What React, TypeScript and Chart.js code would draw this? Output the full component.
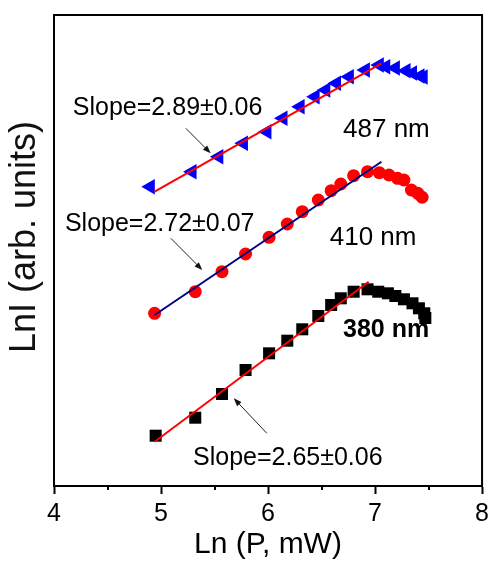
import React, { useEffect, useRef } from "react";
import { Chart, registerables } from "chart.js";

Chart.register(...registerables);

// ---------- data ----------
const xTickValues = [4, 5, 6, 7, 8];
const xMinorTicks = [4.5, 5.5, 6.5, 7.5];

// 487 nm (blue triangles)
const blueX = [4.9, 5.29, 5.54, 5.77, 5.99, 6.14, 6.3, 6.44, 6.54, 6.64, 6.76, 6.91, 7.04, 7.1, 7.19, 7.29, 7.35, 7.42, 7.45];
const blueY = [6.355, 6.673, 6.992, 7.276, 7.522, 7.807, 8.053, 8.265, 8.408, 8.55, 8.69, 8.832, 8.938, 8.902, 8.875, 8.817, 8.769, 8.705, 8.684];

// 410 nm (red circles)
const redX = [4.94, 5.32, 5.57, 5.79, 6.01, 6.18, 6.32, 6.47, 6.59, 6.68, 6.8, 6.93, 7.04, 7.13, 7.21, 7.27, 7.34, 7.4, 7.44];
const redY = [3.667, 4.125, 4.55, 4.926, 5.28, 5.563, 5.824, 6.072, 6.27, 6.412, 6.588, 6.673, 6.652, 6.603, 6.533, 6.497, 6.285, 6.214, 6.13];

// 380 nm (black squares)
const blackX = [4.95, 5.32, 5.57, 5.79, 6.01, 6.18, 6.32, 6.47, 6.59, 6.68, 6.8, 6.93, 7.03, 7.12, 7.19, 7.27, 7.35, 7.41, 7.46, 7.47];
const blackY = [1.068, 1.45, 1.953, 2.463, 2.817, 3.085, 3.327, 3.609, 3.843, 3.985, 4.125, 4.176, 4.125, 4.091, 4.034, 3.964, 3.879, 3.773, 3.667, 3.567];

// linear fits
const fitBlueX = [4.94, 7.06];
const fitBlueY = [6.248, 8.975];
const fitRedX = [4.94, 7.06];
const fitRedY = [3.631, 6.885];
const fitBlackX = [4.94, 6.94];
const fitBlackY = [0.941, 4.338];

// annotation texts
const slopeLabels = ["Slope=2.89\u00b10.06", "Slope=2.72\u00b10.07", "Slope=2.65\u00b10.06"];
const waveLabels = ["487 nm", "410 nm", "380 nm"];

// annotation anchors in data coordinates
const slopeAnchorX = [4.176, 4.102, 5.299];
const slopeAnchorY = [7.877, 5.414, 0.446];
const waveAnchorX = [6.701, 6.577, 6.701];
const waveAnchorY = [7.416, 5.117, 3.17];
const arrowFromX = [5.232, 5.092, 5.989];
const arrowFromY = [7.594, 5.259, 1.119];
const arrowToX = [5.464, 5.386, 5.68];
const arrowToY = [7.064, 4.586, 1.862];

const FONT = "'Liberation Sans', Arial, Helvetica, sans-serif";

const zip = (xs: number[], ys: number[]) => xs.map((x, i) => ({ x, y: ys[i] }));

const overlayPlugin = {
  id: "overlay",
  afterDraw(chart: any) {
    const { ctx, chartArea, scales } = chart;
    const xs = scales.x;
    const ys = scales.y;
    ctx.save();
    // top and right frame
    ctx.strokeStyle = "#000";
    ctx.lineWidth = 2;
    ctx.beginPath();
    ctx.moveTo(chartArea.left, chartArea.top);
    ctx.lineTo(chartArea.right, chartArea.top);
    ctx.lineTo(chartArea.right, chartArea.bottom);
    ctx.stroke();
    // minor ticks
    ctx.beginPath();
    xMinorTicks.forEach((v) => {
      const px = Math.round(xs.getPixelForValue(v));
      ctx.moveTo(px, chartArea.bottom);
      ctx.lineTo(px, chartArea.bottom + 4);
    });
    ctx.stroke();

    // texts
    ctx.fillStyle = "#000";
    ctx.textBaseline = "alphabetic";
    ctx.textAlign = "left";
    ctx.font = `25px ${FONT}`;
    slopeLabels.forEach((t, i) => {
      ctx.fillText(t, xs.getPixelForValue(slopeAnchorX[i]), ys.getPixelForValue(slopeAnchorY[i]));
    });
    waveLabels.forEach((t, i) => {
      ctx.font = i === 2 ? `bold 25px ${FONT}` : `26px ${FONT}`;
      ctx.fillText(t, xs.getPixelForValue(waveAnchorX[i]), ys.getPixelForValue(waveAnchorY[i]));
    });

    // arrows
    ctx.strokeStyle = "#222";
    ctx.fillStyle = "#111";
    ctx.lineWidth = 1;
    arrowFromX.forEach((_, i) => {
      const x1 = xs.getPixelForValue(arrowFromX[i]);
      const y1 = ys.getPixelForValue(arrowFromY[i]);
      const x2 = xs.getPixelForValue(arrowToX[i]);
      const y2 = ys.getPixelForValue(arrowToY[i]);
      const ang = Math.atan2(y2 - y1, x2 - x1);
      const hl = 8;
      const hw = 3;
      ctx.beginPath();
      ctx.moveTo(x1, y1);
      ctx.lineTo(x2 - Math.cos(ang) * hl * 0.8, y2 - Math.sin(ang) * hl * 0.8);
      ctx.stroke();
      ctx.beginPath();
      ctx.moveTo(x2, y2);
      ctx.lineTo(x2 - Math.cos(ang) * hl - Math.sin(ang) * hw, y2 - Math.sin(ang) * hl + Math.cos(ang) * hw);
      ctx.lineTo(x2 - Math.cos(ang) * hl + Math.sin(ang) * hw, y2 - Math.sin(ang) * hl - Math.cos(ang) * hw);
      ctx.closePath();
      ctx.fill();
    });

    // y-axis title
    ctx.save();
    ctx.font = `36px ${FONT}`;
    ctx.textAlign = "center";
    ctx.textBaseline = "middle";
    ctx.translate(25, 237);
    ctx.rotate(-Math.PI / 2);
    ctx.fillText("LnI (arb. units)", 0, 0);
    ctx.restore();

    ctx.restore();
  },
};

export default function App() {
  const ref = useRef<HTMLCanvasElement>(null);
  useEffect(() => {
    if (!ref.current) return;
    const chart = new Chart(ref.current, {
      type: "scatter",
      data: {
        datasets: [
          {
            label: "487 nm fit",
            data: zip(fitBlueX, fitBlueY),
            showLine: true,
            borderColor: "#ff0000",
            borderWidth: 2,
            pointRadius: 0,
            order: 0,
          },
          {
            label: "410 nm fit",
            data: zip(fitRedX, fitRedY),
            showLine: true,
            borderColor: "#000080",
            borderWidth: 2,
            pointRadius: 0,
            order: 0,
          },
          {
            label: "380 nm fit",
            data: zip(fitBlackX, fitBlackY),
            showLine: true,
            borderColor: "#ff0000",
            borderWidth: 2,
            pointRadius: 0,
            order: 0,
          },
          {
            label: "487 nm",
            data: zip(blueX, blueY),
            pointStyle: "triangle",
            rotation: -90,
            pointRadius: 9,
            backgroundColor: "#0000ff",
            borderColor: "#0000ff",
            borderWidth: 0,
            order: 1,
          },
          {
            label: "410 nm",
            data: zip(redX, redY),
            pointStyle: "circle",
            pointRadius: 6.5,
            backgroundColor: "#ff0000",
            borderColor: "#ff0000",
            borderWidth: 0,
            order: 1,
          },
          {
            label: "380 nm",
            data: zip(blackX, blackY),
            pointStyle: "rect",
            pointRadius: 8.5,
            backgroundColor: "#000000",
            borderColor: "#000000",
            borderWidth: 0,
            order: 1,
          },
        ],
      },
      options: {
        animation: false,
        responsive: true,
        maintainAspectRatio: false,
        devicePixelRatio: 1,
        layout: { padding: { top: 15, right: 9, left: 0, bottom: 0 } },
        plugins: {
          legend: { display: false },
          tooltip: { enabled: false },
        },
        scales: {
          x: {
            type: "linear",
            min: 4,
            max: 8,
            afterFit: (s: any) => {
              s.height = 77;
            },
            afterBuildTicks: (s: any) => {
              s.ticks = xTickValues.map((v) => ({ value: v }));
            },
            ticks: {
              autoSkip: false,
              maxRotation: 0,
              padding: 5,
              color: "#000",
              font: { family: FONT, size: 25 },
              callback: (v: any) => String(v),
            },
            grid: {
              display: true,
              drawOnChartArea: false,
              drawTicks: true,
              tickLength: 8,
              tickWidth: 2,
              tickColor: "#000",
            },
            border: { display: true, color: "#000", width: 2 },
            title: {
              display: true,
              text: "Ln (P, mW)",
              color: "#000",
              font: { family: FONT, size: 30 },
              padding: { top: 0, bottom: 0 },
            },
          },
          y: {
            type: "linear",
            min: 0,
            max: 10,
            afterFit: (s: any) => {
              s.width = 54;
            },
            ticks: { display: false },
            grid: { display: false },
            border: { display: true, color: "#000", width: 2 },
          },
        },
      },
      plugins: [overlayPlugin],
    });
    return () => chart.destroy();
  }, []);

  return (
    <div style={{ position: "fixed", left: 0, top: 0, width: 494, height: 563, background: "#fff" }}>
      <canvas ref={ref} />
    </div>
  );
}
